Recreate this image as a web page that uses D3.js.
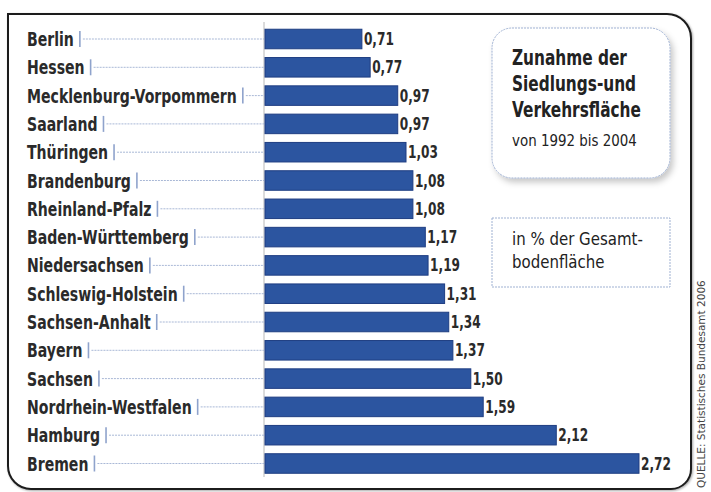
<!DOCTYPE html>
<html lang="de">
<head>
  <meta charset="UTF-8">
  <title>Siedlungs- und Verkehrsfläche</title>
  <script src="https://d3js.org/d3.v7.min.js"></script>
  <style>
    * { margin: 0; padding: 0; box-sizing: border-box; }
    body { background: #fff; font-family: "DejaVu Sans", sans-serif; }
  </style>
</head>
<body>
  <div id="chart"></div>
  <script>
    // Bundesländer, sortiert wie in der Grafik
    const laender = ["Berlin", "Hessen", "Mecklenburg-Vorpommern", "Saarland", "Thüringen",
      "Brandenburg", "Rheinland-Pfalz", "Baden-Württemberg", "Niedersachsen", "Schleswig-Holstein",
      "Sachsen-Anhalt", "Bayern", "Sachsen", "Nordrhein-Westfalen", "Hamburg", "Bremen"];
    const zunahme = [0.71, 0.77, 0.97, 0.97, 1.03, 1.08, 1.08, 1.17, 1.19, 1.31,
      1.34, 1.37, 1.50, 1.59, 2.12, 2.72];
    const titel = ["Zunahme der", "Siedlungs-und", "Verkehrsfläche"];
    const zeitraum = "von 1992 bis 2004";
    const einheit = ["in % der Gesamt-", "bodenfläche"];
    const quelle = "QUELLE: Statistisches Bundesamt 2006";

    const data = laender.map((name, i) => ({ name, wert: zunahme[i] }));
    const fmt = v => d3.format(".2f")(v).replace(".", ",");

    const W = 711, H = 492;
    const svg = d3.select("#chart").append("svg")
      .attr("width", W).attr("height", H);

    // schmale Schrift: Text horizontal stauchen
    function squeeze(parent, str, px, py, size, weight, sx, fill) {
      const t = parent.append("text")
        .attr("transform", `translate(${px},${py}) scale(${sx},1)`)
        .style("font-size", size + "px")
        .style("font-weight", weight)
        .attr("fill", fill || "#222")
        .text(str);
      return t;
    }
    function measure(str, size, weight) {
      const t = svg.append("text").style("font-size", size + "px")
        .style("font-weight", weight).text(str);
      const w = t.node().getComputedTextLength();
      t.remove();
      return w;
    }

    const defs = svg.append("defs");
    const sh = defs.append("filter").attr("id", "shadow")
      .attr("x", "-10%").attr("y", "-10%").attr("width", "130%").attr("height", "130%");
    sh.append("feDropShadow").attr("dx", 3).attr("dy", 4).attr("stdDeviation", 3)
      .attr("flood-color", "#000").attr("flood-opacity", 0.22);
    const sh2 = defs.append("filter").attr("id", "frameShadow")
      .attr("x", "-5%").attr("y", "-5%").attr("width", "110%").attr("height", "110%");
    sh2.append("feDropShadow").attr("dx", 1).attr("dy", 1).attr("stdDeviation", 1)
      .attr("flood-color", "#000").attr("flood-opacity", 0.35);

    // Rahmen: oben links eckig, sonst abgerundet
    const fx0 = 8, fy0 = 14, fx1 = 691, fy1 = 489, r1 = 24, r2 = 20, r3 = 23;
    const fp = d3.path();
    fp.moveTo(fx0, fy0);
    fp.lineTo(fx1 - r1, fy0);
    fp.arcTo(fx1, fy0, fx1, fy0 + r1, r1);
    fp.lineTo(fx1, fy1 - r2);
    fp.arcTo(fx1, fy1, fx1 - r2, fy1, r2);
    fp.lineTo(fx0 + r3, fy1);
    fp.arcTo(fx0, fy1, fx0, fy1 - r3, r3);
    fp.closePath();
    svg.append("path").attr("d", fp.toString())
      .attr("fill", "#fff").attr("stroke", "#1c1c1c").attr("stroke-width", 2)
      .attr("filter", "url(#frameShadow)");

    const x = d3.scaleLinear().domain([0, 2.72]).range([264, 639]);
    const y = d3.scaleBand().domain(laender).range([24.85, 477.65])
      .paddingInner(0.31).paddingOuter(0.155);

    // Achse
    svg.append("line")
      .attr("x1", x(0)).attr("x2", x(0)).attr("y1", 22).attr("y2", 477)
      .attr("stroke", "#b8b8b8").attr("stroke-width", 1);

    // Beschriftung der Länder
    const lblSize = 20, lblWeight = "bold";
    const sLbl = 210 / measure("Mecklenburg-Vorpommern", lblSize, lblWeight);
    data.forEach(d => {
      const cy = y(d.name) + y.bandwidth() / 2;
      const t = squeeze(svg, d.name, 27, cy + 7, lblSize, lblWeight, sLbl, "#2a2a2a");
      const tx = 27 + t.node().getComputedTextLength() * sLbl + 6;
      svg.append("line")
        .attr("x1", tx).attr("x2", tx).attr("y1", cy - 8).attr("y2", cy + 8)
        .attr("stroke", "#8fa3cc").attr("stroke-width", 1.6);
      svg.append("line")
        .attr("x1", tx + 3).attr("x2", x(0)).attr("y1", cy).attr("y2", cy)
        .attr("stroke", "#a9b8d6").attr("stroke-width", 1)
        .attr("stroke-dasharray", "2,1");
    });

    // Balken
    svg.selectAll(".bar").data(data).enter().append("rect")
      .attr("class", "bar")
      .attr("x", x(0) + 1)
      .attr("y", d => y(d.name))
      .attr("width", d => x(d.wert) - x(0) - 1)
      .attr("height", y.bandwidth())
      .attr("fill", "#2c55a0")
      .attr("stroke", "#1e3d82").attr("stroke-width", 1);

    // Werte
    const sVal = 30 / measure("2,72", 17, "bold");
    data.forEach(d => {
      squeeze(svg, fmt(d.wert), x(d.wert) + 2, y(d.name) + y.bandwidth() / 2 + 6,
        17, "bold", sVal, "#2a2a2a");
    });

    // Titelkasten
    svg.append("rect")
      .attr("x", 492).attr("y", 28).attr("width", 178).attr("height", 150).attr("rx", 20)
      .attr("fill", "#fff").attr("stroke", "#9fb1d2").attr("stroke-width", 1)
      .attr("stroke-dasharray", "2,1").attr("filter", "url(#shadow)");
    const sTit = 115 / measure(titel[0], 22, "bold");
    titel.forEach((s, i) => squeeze(svg, s, 512, 65 + i * 26, 22, "bold", sTit));
    const sZeit = 125 / measure(zeitraum, 15, "normal");
    squeeze(svg, zeitraum, 512, 146, 15, "normal", sZeit);

    // Einheitenkasten
    svg.append("rect")
      .attr("x", 492).attr("y", 218).attr("width", 178).attr("height", 69)
      .attr("fill", "#fff").attr("stroke", "#9fb1d2").attr("stroke-width", 1)
      .attr("stroke-dasharray", "2,1");
    const sEin = 131 / measure(einheit[0], 17, "normal");
    einheit.forEach((s, i) => squeeze(svg, s, 512, 245 + i * 23, 17, "normal", sEin));

    // Quelle
    const sQ = 208 / measure(quelle, 11, "normal");
    svg.append("text")
      .attr("transform", `translate(705,488) rotate(-90) scale(${sQ},1)`)
      .style("font-size", "11px").attr("fill", "#444")
      .text(quelle);
  </script>
</body>
</html>
